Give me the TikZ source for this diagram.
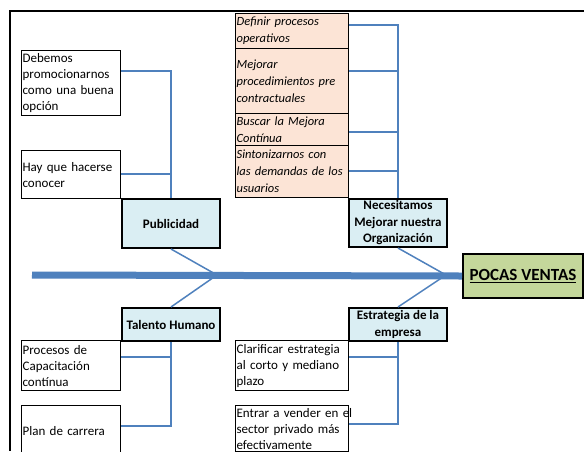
\documentclass[tikz,border=0pt]{standalone}
\usepackage{fontspec}
\setmainfont{Carlito}
\usetikzlibrary{positioning}

\definecolor{espina}{HTML}{4F81BD}
\definecolor{celeste}{HTML}{DAEEF3}
\definecolor{durazno}{HTML}{FCE4D6}
\definecolor{oliva}{HTML}{C4D79B}

\tikzset{
  caja/.style={draw, line width=1.2pt, rectangle, fill=white, anchor=north west,
    inner xsep=1pt, inner ysep=0pt, align=left, font=\fontsize{13}{16}\selectfont},
  angosta/.style={caja, minimum width=99pt, text width=97pt},
  ancha/.style={caja, minimum width=113pt, text width=111pt},
  tarea/.style={ancha, fill=durazno, font=\itshape\fontsize{12.5}{17}\selectfont},
  rama/.style={draw, line width=2pt, fill=celeste, anchor=north west, inner sep=0pt,
    minimum width=98pt, align=center, font=\bfseries\fontsize{13}{16.5}\selectfont},
  efecto/.style={rama, fill=oliva, minimum width=120pt, minimum height=44pt,
    font=\bfseries\fontsize{17}{20}\selectfont},
  conector/.style={draw=espina, line width=1.5pt},
  hueso/.style={draw=espina, line width=1.5pt},
  espinazo/.style={draw=espina, line width=7pt},
}

\begin{document}
\begin{tikzpicture}[x=1pt, y=-1pt]
    \clip (0,0) rectangle (584,451);
    \fill[white] (0,0) rectangle (584,451);
    \draw[line width=2pt] (584,11) -- (10,11) -- (10,451);

    % causas de arriba
    \node[angosta, minimum height=65pt] (deb) at (21,50)
        {Debemos\\promocionarnos\\como una buena\\opción};
    \node[angosta, minimum height=48pt] (hay) at (21,150) {Hay que hacerse\\conocer};
    \node[tarea, minimum height=35pt] (def) at (235,13) {Definir procesos\\operativos};
    \node[tarea, minimum height=65pt] (mej) at (235,48)
        {Mejorar\\procedimientos pre\\contractuales};
    \node[tarea, minimum height=32pt] (bus) at (235,113) {Buscar la Mejora\\Contínua};
    \node[tarea, minimum height=52pt] (sin) at (235,145)
        {Sintonizarnos con\\las demandas de los\\usuarios};
    \node[rama, minimum height=49pt] (pub) at (121,198) {Publicidad};
    \node[rama, minimum height=48pt] (nec) at (348,198)
        {Necesitamos\\Mejorar nuestra\\Organización};

    % causas de abajo
    \node[rama, minimum height=33pt] (tal) at (121,307) {Talento Humano};
    \node[rama, minimum height=33pt] (est) at (348,307) {Estrategia de la\\empresa};
    \node[angosta, minimum height=50pt] (proc) at (21,340)
        {Procesos de\\Capacitación\\contínua};
    \node[angosta, minimum height=50pt] (plan) at (21,405) {Plan de carrera};
    \node[ancha, minimum height=50pt] (cla) at (235,340)
        {Clarificar estrategia\\al corto y mediano\\plazo};
    \node[ancha, minimum height=46pt] (ent) at (235,405)
        {\mbox{Entrar a vender en el}\\sector privado más\\efectivamente};

    % efecto
    \node[efecto] (pocas) at (462,253) {\underline{POCAS VENTAS}};

    % espina
    \coordinate (cola) at (32,275);
    \coordinate (j1) at (217,275);
    \coordinate (j2) at (446,275);
    \draw[espinazo] (cola) -- (pocas.west);
    \draw[hueso] (pub.south) -- (j1) -- (tal.north);
    \draw[hueso] (nec.south) -- (j2) -- (est.north);

    % conectores
    \draw[conector] ([yshift=12pt]deb.east) -| (pub.north);
    \draw[conector] ([yshift=0.5pt]hay.east) -| (pub.north);
    \draw[conector] ([yshift=6pt]def.east) -| (nec.north);
    \draw[conector] ([yshift=10pt]mej.east) -| (nec.north);
    \draw[conector] ([yshift=-2.5pt]bus.east) -| (nec.north);
    \draw[conector] ([yshift=0.5pt]sin.east) -| (nec.north);
    \draw[conector] ([yshift=8.5pt]proc.east) -| (tal.south);
    \draw[conector] ([yshift=4.5pt]plan.east) -| (tal.south);
    \draw[conector] ([yshift=8.5pt]cla.east) -| (est.south);
    \draw[conector] ([yshift=4.5pt]ent.east) -| (est.south);
\end{tikzpicture}
\end{document}
